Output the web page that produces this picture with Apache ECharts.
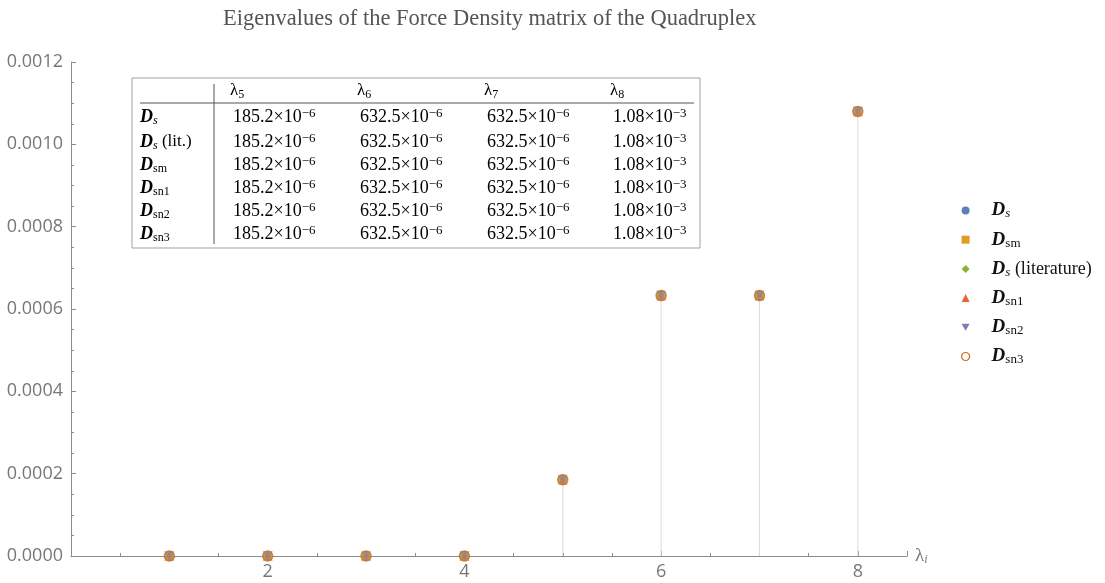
<!DOCTYPE html>
<html><head><meta charset="utf-8">
<script src="https://cdn.jsdelivr.net/npm/echarts@6/dist/echarts.min.js"></script>
<style>html,body{margin:0;padding:0;background:#fff}#c{width:1105px;height:583px}</style>
</head><body><div id="c"></div>
<script>
// ---- data ----
const xValues = [1, 2, 3, 4, 5, 6, 7, 8];
const eigenDs     = [0, 0, 0, 0, 185.2e-6, 632.5e-6, 632.5e-6, 1.08e-3];
const eigenDsm    = [0, 0, 0, 0, 185.2e-6, 632.5e-6, 632.5e-6, 1.08e-3];
const eigenDsLit  = [0, 0, 0, 0, 185.2e-6, 632.5e-6, 632.5e-6, 1.08e-3];
const eigenDsn1   = [0, 0, 0, 0, 185.2e-6, 632.5e-6, 632.5e-6, 1.08e-3];
const eigenDsn2   = [0, 0, 0, 0, 185.2e-6, 632.5e-6, 632.5e-6, 1.08e-3];
const eigenDsn3   = [0, 0, 0, 0, 185.2e-6, 632.5e-6, 632.5e-6, 1.08e-3];
const seriesKeys  = ['Ds', 'Dsm', 'DsLit', 'Dsn1', 'Dsn2', 'Dsn3'];
const seriesSubs  = ['s', 'sm', 's', 'sn1', 'sn2', 'sn3'];
const seriesExtra = ['', '', ' (literature)', '', '', ''];
const yTickValues = [0, 0.0002, 0.0004, 0.0006, 0.0008, 0.0010, 0.0012];
const xTickLabels = [2, 4, 6, 8];
const tableHeaderSubs = ['5', '6', '7', '8'];
const tableRowSubs   = ['s', 's', 'sm', 'sn1', 'sn2', 'sn3'];
const tableRowExtra  = ['', ' (lit.)', '', '', '', ''];
const tableMantissa = [
  ['185.2', '632.5', '632.5', '1.08'],
  ['185.2', '632.5', '632.5', '1.08'],
  ['185.2', '632.5', '632.5', '1.08'],
  ['185.2', '632.5', '632.5', '1.08'],
  ['185.2', '632.5', '632.5', '1.08'],
  ['185.2', '632.5', '632.5', '1.08']
];
const tableExponent = [
  ['−6', '−6', '−6', '−3'],
  ['−6', '−6', '−6', '−3'],
  ['−6', '−6', '−6', '−3'],
  ['−6', '−6', '−6', '−3'],
  ['−6', '−6', '−6', '−3'],
  ['−6', '−6', '−6', '−3']
];
const allSeries = [eigenDs, eigenDsm, eigenDsLit, eigenDsn1, eigenDsn2, eigenDsn3];

// ---- styles ----
const SERIF = "'Liberation Serif', 'DejaVu Serif', serif";
const SANS = "'Open Sans', sans-serif";
const colors = ['#5E81B5', '#E19C24', '#8FB032', '#EB6235', '#8778B3', '#C56E1A'];
const downTri = 'path://M0,0 L10,0 L5,8.66 Z';
const symbols = ['circle', 'rect', 'diamond', 'triangle', downTri, 'circle'];
const symSizes = [10, 9, 11, 10, 10, 10];

const richLegend = {
  D:   { fontFamily: SERIF, fontStyle: 'italic', fontWeight: 'bold', fontSize: 19, color: '#111', lineHeight: 20 },
  si:  { fontFamily: SERIF, fontStyle: 'italic', fontSize: 13, color: '#111', lineHeight: 11, verticalAlign: 'bottom' },
  s:   { fontFamily: SERIF, fontSize: 13, color: '#111', lineHeight: 11, verticalAlign: 'bottom' },
  t:   { fontFamily: SERIF, fontSize: 18, color: '#111', lineHeight: 20 }
};
function dLabel(sub, extra) {
  const subTag = sub === 's' ? 'si' : 's';
  return '{D|D}{' + subTag + '|' + sub + '}' + (extra ? '{t|' + extra + '}' : '');
}

const scatterSeries = seriesKeys.map((k, i) => ({
  name: k,
  type: 'scatter',
  z: 5 + i,
  symbol: symbols[i],
  symbolSize: symSizes[i],
  itemStyle: i === 5
    ? { color: 'rgba(0,0,0,0)', borderColor: colors[i], borderWidth: 1.5, opacity: 0.75 }
    : { color: colors[i], opacity: 0.5 },
  data: xValues.map((x, j) => [x, allSeries[i][j]])
}));

const stemSeries = {
  type: 'custom',
  z: 1,
  silent: true,
  data: xValues.map((x, j) => [x, eigenDs[j]]),
  renderItem: (params, api) => {
    const p0 = api.coord([api.value(0), 0]);
    const p1 = api.coord([api.value(0), api.value(1)]);
    return { type: 'line', shape: { x1: p0[0], y1: p0[1], x2: p1[0], y2: p1[1] },
      style: { stroke: '#dcdcdc', lineWidth: 1 } };
  }
};

// ---- table graphic ----
const tblLeft = 132, tblTop = 78, tblRight = 700, tblBottom = 248;
const colX = [233, 360, 487, 613];
const headerY = 91;
const rowY = [117, 142, 165, 188, 211, 234];
const TC = '#222';
const richTable = {
  D:  { fontFamily: SERIF, fontStyle: 'italic', fontWeight: 'bold', fontSize: 18, color: TC, lineHeight: 20 },
  si: { fontFamily: SERIF, fontStyle: 'italic', fontSize: 12, color: TC, lineHeight: 11, verticalAlign: 'bottom' },
  s:  { fontFamily: SERIF, fontSize: 12, color: TC, lineHeight: 11, verticalAlign: 'bottom' },
  t:  { fontFamily: SERIF, fontSize: 17, color: TC, lineHeight: 20 },
  n:  { fontFamily: SERIF, fontSize: 18, color: TC, lineHeight: 20 },
  x:  { fontFamily: SERIF, fontSize: 18, color: TC, lineHeight: 20 },
  sup:{ fontFamily: SERIF, fontSize: 13, color: TC, lineHeight: 10, verticalAlign: 'top' },
  l:  { fontFamily: SERIF, fontSize: 17, color: TC, lineHeight: 20 },
  ls: { fontFamily: SERIF, fontSize: 12, color: TC, lineHeight: 10, verticalAlign: 'bottom' }
};
const tableGraphics = [];
tableGraphics.push({ type: 'rect', shape: { x: tblLeft, y: tblTop, width: tblRight - tblLeft, height: tblBottom - tblTop },
  style: { fill: '#fff', stroke: '#a0a0a0', lineWidth: 1 }, z: 50 });
tableGraphics.push({ type: 'line', shape: { x1: 214, y1: 84, x2: 214, y2: 244 }, style: { stroke: '#555', lineWidth: 1 }, z: 51 });
tableGraphics.push({ type: 'line', shape: { x1: 140, y1: 103, x2: 694, y2: 103 }, style: { stroke: '#555', lineWidth: 1 }, z: 51 });
tableHeaderSubs.forEach((s, c) => {
  tableGraphics.push({ type: 'text', x: colX[c] - 3, y: headerY, z: 52,
    style: { text: '{l|λ}{ls|' + s + '}', rich: richTable, verticalAlign: 'middle', align: 'left' } });
});
tableRowSubs.forEach((s, r) => {
  const y = rowY[r];
  const subTag = s === 's' ? 'si' : 's';
  tableGraphics.push({ type: 'text', x: 140, y: y, z: 52,
    style: { text: '{D|D}{' + subTag + '|' + s + '}' + (tableRowExtra[r] ? '{t|' + tableRowExtra[r] + '}' : ''),
      rich: richTable, verticalAlign: 'middle', align: 'left' } });
  tableMantissa[r].forEach((m, c) => {
    tableGraphics.push({ type: 'text', x: colX[c], y: y, z: 52,
      style: { text: '{n|' + m + '}{x|×}{n|10}{sup|' + tableExponent[r][c] + '}', rich: richTable,
        verticalAlign: 'middle', align: 'left' } });
  });
});

const chart = echarts.init(document.getElementById('c'), null, { renderer: 'canvas' });
chart.setOption({
  backgroundColor: '#fff',
  animation: false,
  title: {
    text: 'Eigenvalues of the Force Density matrix of the Quadruplex',
    left: 218, top: 3,
    textStyle: { fontFamily: SERIF, fontSize: 22.5, fontWeight: 'normal', color: '#555' }
  },
  grid: { left: 71, right: 198, top: 62, bottom: 27, containLabel: false },
  xAxis: {
    type: 'value', min: 0, max: 8.5, interval: 2,
    name: '{l|λ}{i|i}', nameLocation: 'end', nameGap: 8,
    nameTextStyle: { rich: {
      l: { fontFamily: SERIF, fontSize: 19, color: '#777', lineHeight: 20 },
      i: { fontFamily: SERIF, fontStyle: 'italic', fontSize: 12, color: '#777', lineHeight: 10, verticalAlign: 'bottom' } } },
    axisLine: { onZero: false, lineStyle: { color: '#8c8c8c', width: 1 } },
    axisTick: { show: true, inside: true, length: 5, lineStyle: { color: '#8c8c8c' } },
    minorTick: { show: true, splitNumber: 4, length: 3, lineStyle: { color: '#8c8c8c' } },
    splitLine: { show: false },
    axisLabel: {
      margin: 7, color: '#777', fontFamily: SANS, fontSize: 18,
      showMaxLabel: false, showMinLabel: false,
      formatter: v => (xTickLabels.indexOf(v) >= 0 ? String(v) : '')
    }
  },
  yAxis: {
    type: 'value', min: 0, max: 0.0012, interval: 0.0002,
    axisLine: { show: true, onZero: false, lineStyle: { color: '#8c8c8c', width: 1 } },
    axisTick: { show: true, inside: true, length: 5, lineStyle: { color: '#8c8c8c' } },
    minorTick: { show: true, splitNumber: 4, length: 3, lineStyle: { color: '#8c8c8c' } },
    splitLine: { show: false },
    axisLabel: {
      margin: 8, color: '#777', fontFamily: SANS, fontSize: 18,
      formatter: v => {
        const hit = yTickValues.find(t => Math.abs(t - v) < 1e-9);
        return hit === undefined ? '' : hit.toFixed(4);
      }
    }
  },
  legend: {
    orient: 'vertical', left: 956, top: 196, itemGap: 9.7,
    itemWidth: 8, itemHeight: 8,
    data: seriesKeys.map((k, i) => ({
      name: k, icon: symbols[i],
      itemStyle: i === 5 ? { color: '#fff', borderColor: colors[i], borderWidth: 1.2, opacity: 1 } : { color: colors[i], opacity: 1 }
    })),
    textStyle: { padding: [0, 0, 0, 17], rich: richLegend },
    formatter: name => {
      const i = seriesKeys.indexOf(name);
      return dLabel(seriesSubs[i], seriesExtra[i]);
    },
    selectedMode: false
  },
  graphic: tableGraphics,
  series: [stemSeries].concat(scatterSeries)
});
</script>
</body></html>
